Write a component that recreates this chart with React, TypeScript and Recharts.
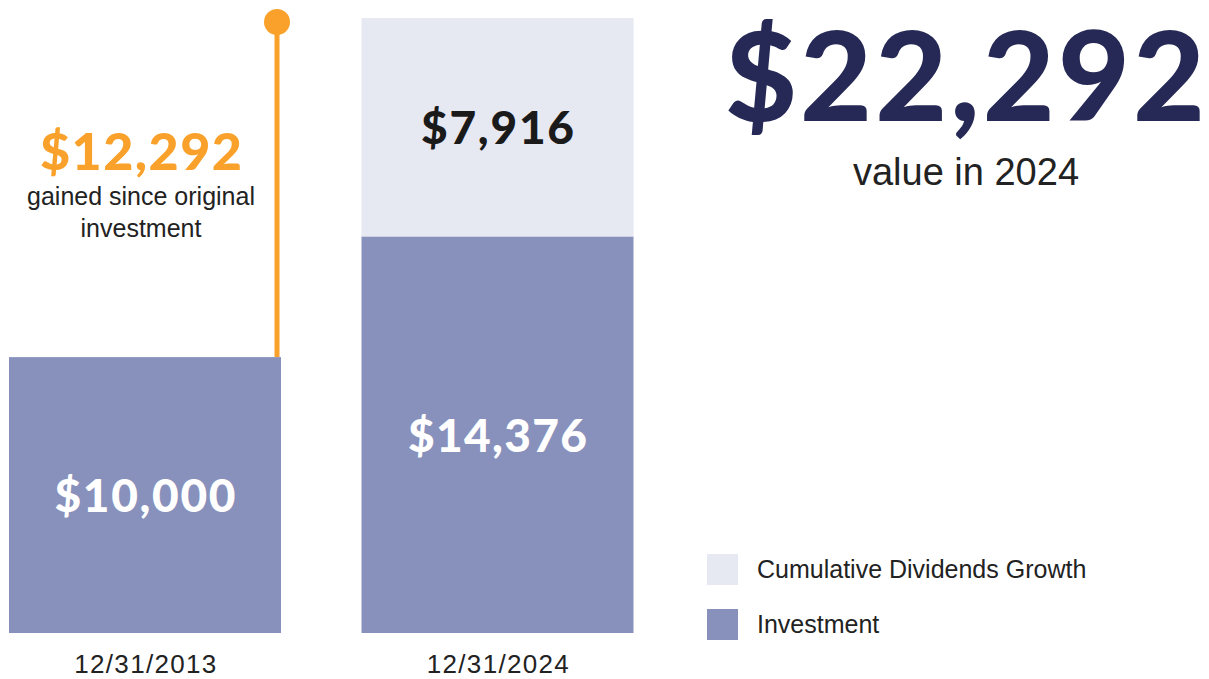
import { BarChart, Bar, XAxis, YAxis, Legend, LabelList } from 'recharts';

const dates = ['12/31/2013', '12/31/2024'];
const investment = [10000, 14376];
const dividends = [0, 7916];
const totalValue = 22292;
const seriesNames = { dividends: 'Cumulative Dividends Growth', investment: 'Investment' };
const legendOrder = ['dividends', 'investment'];

const data = dates.map((date, i) => ({
  date,
  investment: investment[i],
  dividends: dividends[i] || null,
}));

const fmt = (v: number) => '$' + v.toLocaleString('en-US');

const FONT = '"Liberation Sans", Arial, sans-serif';
const HEAVY = 'Lato, "Liberation Sans", Arial, sans-serif';
const NAVY = '#262956';
const ORANGE = '#F9A12A';
const INVEST = '#8791BC';
const DIV = '#E6E8F2';

// investment bar; the first one also carries the gain lollipop
const InvestmentShape = (props: any) => {
  const { x, y, width, height, payload } = props;
  const rect = <rect x={x} y={y} width={width} height={height} fill={INVEST} />;
  if (payload.date !== dates[0]) return rect;
  const base = y + height;
  const perUnit = height / payload.investment;
  const topY = base - totalValue * perUnit;
  const lx = x + width - 4;
  const cx = x + width / 2 - 4;
  const gain = totalValue - payload.investment;
  return (
    <g>
      {rect}
      <line x1={lx} x2={lx} y1={y} y2={topY + 4} stroke={ORANGE} strokeWidth={5} />
      <circle cx={lx} cy={topY + 4} r={13} fill={ORANGE} />
      <text x={cx} y={topY + 152} textAnchor="middle" fill={ORANGE} fontFamily={HEAVY}
        fontWeight={900} fontSize={52} textLength={202}>{fmt(gain)}</text>
      <text x={cx} y={topY + 187} textAnchor="middle" fill="#222" fontFamily={FONT} fontSize={25}>
        gained since original
      </text>
      <text x={cx} y={topY + 219} textAnchor="middle" fill="#222" fontFamily={FONT} fontSize={25}>
        investment
      </text>
    </g>
  );
};

const barLabel = (color: string, widths: Record<string, number>) => (props: any) => {
  const { x, y, width, height, value } = props;
  if (!value) return null;
  return (
    <text x={x + width / 2} y={y + height / 2 + 17} textAnchor="middle" fill={color}
      fontFamily={HEAVY} fontWeight={900} fontSize={46} textLength={widths[value]}>
      {fmt(value)}
    </text>
  );
};

const DateTick = (props: any) => {
  const { x, y, payload } = props;
  return (
    <text x={x} y={y + 38} textAnchor="middle" fill="#222" fontFamily={FONT} fontSize={26} textLength={142}>
      {payload.value}
    </text>
  );
};

const LegendBox = (props: any) => {
  const items = [...(props.payload || [])].sort(
    (a: any, b: any) => legendOrder.indexOf(a.dataKey) - legendOrder.indexOf(b.dataKey)
  );
  return (
    <div>
      {items.map((it: any) => (
        <div key={it.dataKey} style={{ display: 'flex', alignItems: 'center', height: 31, marginBottom: 24 }}>
          <div style={{ width: 31, height: 31, background: it.color, marginRight: 19 }} />
          <span style={{ fontFamily: FONT, fontSize: 25, color: '#222' }}>{it.value}</span>
        </div>
      ))}
    </div>
  );
};

export default function App() {
  return (
    <div style={{ position: 'absolute', left: 0, top: 0, width: 1209, height: 679, overflow: 'hidden', background: '#fff' }}>
      <div style={{ position: 'absolute', left: -31, top: 0 }}>
        <BarChart width={1240} height={679} data={data} margin={{ top: 18, right: 535, bottom: 0, left: 0 }}>
          <XAxis dataKey="date" axisLine={false} tickLine={false} tickSize={0} height={46} tick={<DateTick />} />
          <YAxis hide domain={[0, totalValue]} />
          <Legend
            layout="vertical"
            align="center"
            verticalAlign="middle"
            content={<LegendBox />}
            wrapperStyle={{ left: 738, top: 554, width: 420, height: 100 }}
          />
          <Bar dataKey="investment" name={seriesNames.investment} stackId="a" fill={INVEST}
            barSize={272} shape={<InvestmentShape />} isAnimationActive={false}>
            <LabelList dataKey="investment" content={barLabel('#fff', { 10000: 181, 14376: 179 })} />
          </Bar>
          <Bar dataKey="dividends" name={seriesNames.dividends} stackId="a" fill={DIV}
            barSize={272} isAnimationActive={false}>
            <LabelList dataKey="dividends" content={barLabel('#1a1a1a', { 7916: 153 })} />
          </Bar>
        </BarChart>
      </div>
      <svg width={1209} height={679} style={{ position: 'absolute', left: 0, top: 0, pointerEvents: 'none' }}>
        <text x={965} y={121} textAnchor="middle" fill={NAVY} fontFamily={HEAVY} fontWeight={900}
          fontSize={124} textLength={480}>{fmt(totalValue)}</text>
        <text x={966} y={185} textAnchor="middle" fill="#222" fontFamily={FONT} fontSize={38}>
          value in 2024
        </text>
      </svg>
    </div>
  );
}
